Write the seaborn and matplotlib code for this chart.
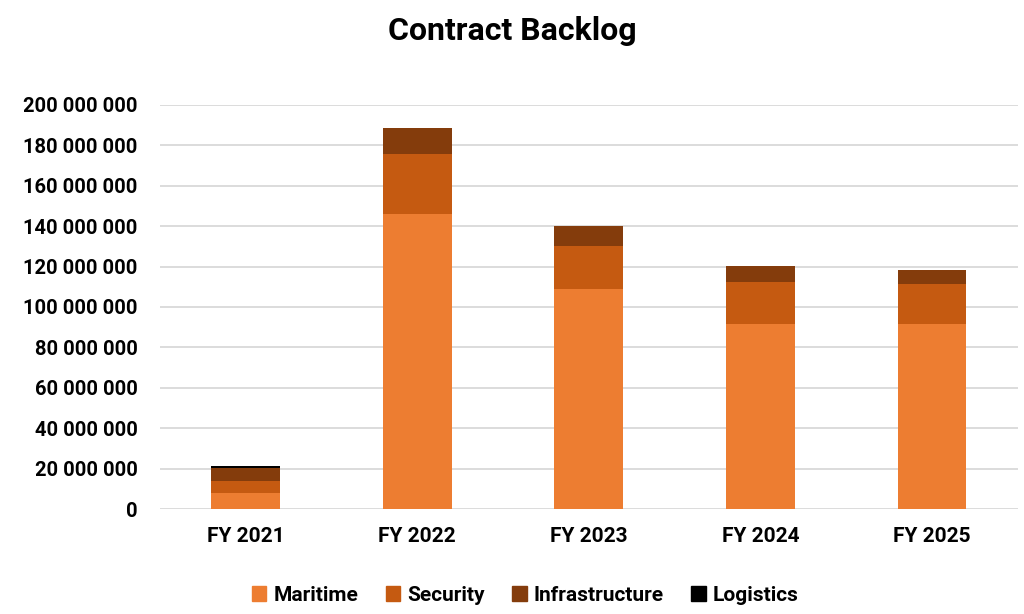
import pandas as pd
import numpy as np
import matplotlib
matplotlib.use("Agg")
import matplotlib.pyplot as plt
import seaborn as sns
from matplotlib.ticker import FuncFormatter
from matplotlib.patches import Patch

# data
years = ["FY 2021", "FY 2022", "FY 2023", "FY 2024", "FY 2025"]
maritime = [7.8e6, 145.9e6, 108.9e6, 91.6e6, 91.6e6]
security = [6.1e6, 29.7e6, 21.3e6, 20.9e6, 19.6e6]
infrastructure = [6.5e6, 12.9e6, 9.9e6, 7.9e6, 7.1e6]
logistics = [0.9e6, 0, 0, 0, 0]

series = ["Maritime", "Security", "Infrastructure", "Logistics"]
colors = ["#ED7D31", "#C55A11", "#843C0C", "#000000"]

sns.set_style("white")
plt.rcParams['font.family'] = ['Roboto', 'DejaVu Sans']
plt.rcParams['font.weight'] = 'bold'
plt.rcParams['text.color'] = 'black'
plt.rcParams['xtick.color'] = 'black'
plt.rcParams['ytick.color'] = 'black'

df = pd.DataFrame({"year": years, "Maritime": maritime, "Security": security,
                   "Infrastructure": infrastructure, "Logistics": logistics})
cum = df[series].cumsum(axis=1)
cum["year"] = years

fig = plt.figure(figsize=(10.24, 6.14), dpi=100)
ax = fig.add_axes([0.156, 0.171, 0.838, 0.658])

# draw cumulative layers from top to bottom so they stack
for s, c in zip(series[::-1], colors[::-1]):
    sns.barplot(data=cum, x="year", y=s, color=c, width=0.4, ax=ax,
                saturation=1, errorbar=None, linewidth=0)

ax.set_ylim(0, 200e6)
ax.set_yticks(np.arange(0, 200e6 + 1, 20e6))
ax.yaxis.set_major_formatter(FuncFormatter(lambda v, p: f"{int(v):,}".replace(",", " ")))
ax.grid(axis="y", color="#D9D9D9", linewidth=1.3)
ax.set_axisbelow(True)
for sp in ax.spines.values():
    sp.set_visible(False)
ax.set_xlabel("")
ax.set_ylabel("")
ax.tick_params(axis="both", length=0)
ax.tick_params(axis="y", pad=16, labelsize=14.5)
ax.tick_params(axis="x", pad=13, labelsize=15)
for lbl in ax.get_xticklabels() + ax.get_yticklabels():
    lbl.set_fontweight("bold")

fig.text(0.5, 0.95, "Contract Backlog", ha="center", va="center",
         fontsize=23, fontweight="bold")

handles = [Patch(color=c, label=s) for s, c in zip(series, colors)]
fig.legend(handles=handles, loc="center", bbox_to_anchor=(0.513, 0.03), ncol=4,
           frameon=False, handlelength=0.7, handleheight=0.7,
           columnspacing=1.3, handletextpad=0.35, prop={"weight": "bold", "size": 15})

fig.savefig("out.png", dpi=100)
